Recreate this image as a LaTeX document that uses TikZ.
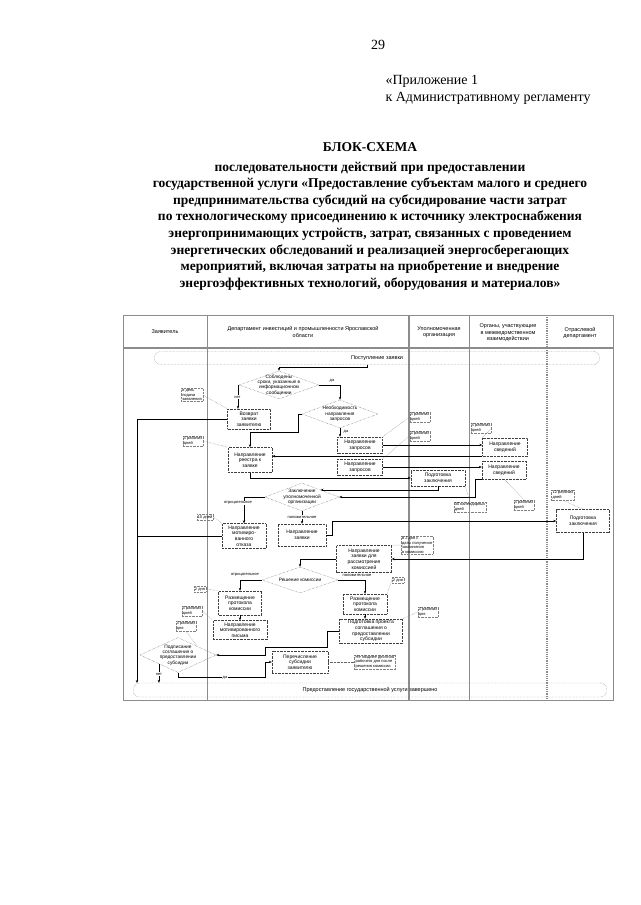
\documentclass[tikz,border=0pt]{standalone}
\usepackage{fontspec}
\setmainfont{Liberation Serif}
\newfontfamily\sfdiag{Liberation Sans}
\usetikzlibrary{arrows.meta,shapes.geometric,positioning,calc}

\begin{document}
\begin{tikzpicture}[x=1pt,y=-1pt,
    blok/.style={draw=black!75, densely dotted, align=center, inner sep=0.5pt, font=\sfdiag\fontsize{5}{5.6}\selectfont},
    romb/.style={diamond, draw=black!70, densely dotted, inner sep=0pt},
    rtxt/.style={align=center, inner sep=0pt, font=\sfdiag\fontsize{4.8}{5.4}\selectfont},
    term/.style={draw=black!60, densely dotted, rounded corners=6pt, inner sep=0pt, font=\sfdiag\fontsize{5.5}{6}\selectfont},
    hdr/.style={align=center, font=\sfdiag\fontsize{5.5}{6.5}\selectfont},
    note/.style={draw=black!50, densely dotted, align=left, inner sep=1pt, font=\sfdiag\fontsize{4}{4.5}\selectfont},
    elbl/.style={fill=white, inner sep=0.5pt, font=\sfdiag\fontsize{4}{4.5}\selectfont},
    lane/.style={draw=black!45, line width=1.2pt},
    arr/.style={-{Stealth[length=3pt,width=2.4pt]}, line width=0.6pt},
    hint/.style={densely dotted, black!60, line width=0.4pt}
]
\useasboundingbox (0,0) rectangle (640,905);
\fill[white] (0,0) rectangle (640,905);

% header of the page
\node[font=\fontsize{14}{17}\selectfont] (pg) at (378,45) {29};
\node[anchor=west, align=left, font=\fontsize{14}{17}\selectfont] (pril) at (382,90) {«Приложение 1\\к Административному регламенту};
\node[font=\bfseries\fontsize{13.5}{16.6}\selectfont] (ttl) at (370,147) {БЛОК-СХЕМА};
\node[align=center, font=\bfseries\fontsize{13.5}{16.6}\selectfont] (sub) at (370,226) {последовательности действий при предоставлении\\
государственной услуги «Предоставление субъектам малого и среднего\\
предпринимательства субсидий на субсидирование части затрат\\
по технологическому присоединению к источнику электроснабжения\\
энергопринимающих устройств, затрат, связанных с проведением\\
энергетических обследований и реализацией энергосберегающих\\
мероприятий, включая затраты на приобретение и внедрение\\
энергоэффективных технологий, оборудования и материалов»};

% lanes
\draw[black!45, line width=0.8pt] (123,315) rectangle (613,700);
\draw[lane] (123,348) -- (613,348);
\draw[black!45, line width=0.8pt] (207,315) -- (207,700);
\draw[lane] (409,315) -- (409,700);
\draw[black!45, line width=0.8pt] (469,315) -- (469,700);
\draw[lane, densely dotted] (547,315) -- (547,700);

\node[hdr] (hz) at (165,332) {Заявитель};
\node[hdr] (hd) at (303,332) {Департамент инвестиций и промышленности Ярославской\\области};
\node[hdr] (hu) at (439,332) {Уполномоченная\\организация};
\node[hdr] (ho) at (508,333) {Органы, участвующие\\в межведомственном\\взаимодействии};
\node[hdr] (hr) at (580,333) {Отраслевой\\департамент};

% blocks
\node[term, minimum width=445, minimum height=13] (start) at (377,358) {Поступление заявки};
\node[romb, minimum width=80, minimum height=28] (d1) at (279,385) {};
\node[rtxt] (d1t) at (d1) {Соблюдены\\сроки, указанные в\\информационном\\сообщении};
\node[blok, minimum width=43, minimum height=20] (vozvrat) at (249,419) {Возврат\\заявки\\заявителю};
\node[romb, minimum width=76, minimum height=28] (d2) at (340,414) {};
\node[rtxt] (d2t) at (d2) {Необходимость\\направления\\запросов};
\node[blok, minimum width=44, minimum height=25] (reestr) at (250,460) {Направление\\реестра к\\заявке};
\node[blok, minimum width=45, minimum height=16] (zap1) at (360,445) {Направление\\запросов};
\node[blok, minimum width=45, minimum height=16] (zap2) at (360,467) {Направление\\запросов};
\node[blok, minimum width=45, minimum height=18] (svd1) at (505,447) {Направление\\сведений};
\node[blok, minimum width=44, minimum height=18] (svd2) at (504,470) {Направление\\сведений};
\node[blok, minimum width=54, minimum height=16] (zakl1) at (438,478) {Подготовка\\заключения};
\node[romb, minimum width=74, minimum height=28] (d3) at (302,497) {};
\node[rtxt] (d3t) at (d3) {Заключение\\уполномоченной\\организации};
\node[blok, minimum width=44, minimum height=25] (otkaz) at (244,536) {Направление\\мотивиро-\\ванного\\отказа};
\node[blok, minimum width=48, minimum height=22] (napz) at (302,535) {Направление\\заявки};
\node[blok, minimum width=53, minimum height=23] (zakl2) at (583,521) {Подготовка\\заключения};
\node[blok, minimum width=55, minimum height=27] (komis) at (364,559) {Направление\\заявки для\\рассмотрения\\комиссией};
\node[romb, minimum width=76, minimum height=26] (d4) at (300,580) {};
\node[rtxt] (d4t) at (d4) {Решение комиссии};
\node[blok, minimum width=43, minimum height=24] (razm1) at (240,603) {Размещение\\протокола\\комиссии};
\node[blok, minimum width=44, minimum height=20] (razm2) at (365,604) {Размещение\\протокола\\комиссии};
\node[blok, minimum width=54, minimum height=19] (pismo) at (240,630) {Направление\\мотивированного\\письма};
\node[blok, minimum width=63, minimum height=24] (proekt) at (371,631) {Подготовка проекта\\соглашения о\\предоставлении\\субсидии};
\node[romb, minimum width=76, minimum height=35] (d5) at (178,655) {};
\node[rtxt] (d5t) at (d5) {Подписание\\соглашения о\\предоставлении\\субсидии};
\node[blok, minimum width=56, minimum height=22] (perech) at (300,662) {Перечисление\\субсидии\\заявителю};
\node[term, minimum width=473, minimum height=14] (end) at (370,690) {Предоставление государственной услуги завершено};
\coordinate (vl) at (137,683);

% terms
\node[note] (a1) at (192,395) {в день\\подачи\\заявления};
\node[note] (a2) at (193,441) {5 рабочих\\дней};
\node[note] (a3) at (420,417) {5 рабочих\\дней};
\node[note] (a4) at (420,436) {5 рабочих\\дней};
\node[note] (a5) at (481,428) {5 рабочих\\дней};
\node[note] (a6) at (470,507) {30 календарных\\дней};
\node[note] (a7) at (524,505) {5 рабочих\\дней};
\node[note] (a8) at (563,495) {12 рабочих\\дней};
\node[note] (a9) at (205,517) {10 дней};
\node[note] (a10) at (417,545) {в 2 дня с\\даты получения\\заключения\\в комиссию};
\node[note] (a11) at (200,589) {2 дня};
\node[note] (a12) at (192,611) {5 рабочих\\дней};
\node[note] (a13) at (186,626) {3 рабочих\\дня};
\node[note] (a14) at (398,580) {2 дня};
\node[note] (a15) at (428,612) {3 рабочих\\дня};
\node[note] (a16) at (375,662) {Не позднее десятого\\рабочего дня после\\решения комиссии};

% connectors
\draw[arr] ([xshift=-10pt]start.south) -- ++(0,3) -| (d1.north);
\draw[arr] (d1.west) -| ([xshift=-11pt]vozvrat.north);
\draw[arr] (d1.east) -| (d2.north);
\draw[arr] (d2.south) -- (d2.south |- zap1.north);
\draw[arr] (d2.west) -- ++(-4,0) -- ++(0,18) -| (reestr.north);
\draw[arr] (zap1.east) -- (zap1.east -| svd1.west);
\draw[arr] (zap2.east) -- (zap2.east -| svd2.west);
\draw[arr] (svd1.south west) -- (svd1.south west -| reestr.east);
\draw[arr] (svd2.south west) -- ++(-7,0) |- (d3.east);
\draw[arr] (reestr.south) |- (zakl1.west);
\draw[arr] (zakl1.south) |- (d3.north east);
\draw[arr] (d3.west) -| (otkaz.north);
\draw[arr] (d3.south) -- (napz.north);
\draw[arr] (napz.east) -- ++(6,0) |- (zakl2.west);
\draw[arr] (zakl2.south) |- (komis.east);
\draw[arr] (komis.west) -| (d4.north);
\draw[arr] (d4.west) -| (razm1.north);
\draw[arr] (d4.east) -| (razm2.north);
\draw[arr] (razm1.south) -- (pismo.north);
\draw[arr] (razm2.south) -- (razm2.south |- proekt.north);
\draw[arr] (proekt.west) -| ++(-12,16) -| ++(-62,8) -- (d5.east);
\draw[arr] (d5.south) |- ++(87,5) |- (perech.west);
\draw[arr] (d5.south west) -- (d5.south west |- end.north);
\draw[arr] (vozvrat.west) -| (vl);
\draw[line width=0.6pt] (otkaz.west) -- (otkaz.west -| vl);

\node[elbl] (l1) at (237.5,397) {нет};
\node[elbl] (l2) at (332,381) {да};
\node[elbl] (l3) at (346,432) {да};
\node[elbl] (l4) at (238,503) {отрицательное};
\node[elbl] (l5) at (302,517) {положительное};
\node[elbl] (l6) at (245,575) {отрицательное};
\node[elbl] (l7) at (357,575) {положительное};
\node[elbl] (l8) at (225,677.5) {да};
\node[elbl] (l9) at (159,674) {нет};

% terms to blocks
\draw[hint] (a1.east) -- (vozvrat.north west);
\draw[hint] (a2.east) -- (reestr.north west);
\draw[hint] (a3.west) -- (zap1.north east);
\draw[hint] (a4.west) -- (zap2.north east);
\draw[hint] (a5.east) -- (svd1.north west);
\draw[hint] (a6.north) -- (zakl1.south east);
\draw[hint] (a7.north) -- (svd2.south);
\draw[hint] (a8.south) -- (zakl2.north);
\draw[hint] (a9.east) -- (otkaz.north west);
\draw[hint] (a10.west) -- (komis.north east);
\draw[hint] (a11.east) -- (razm1.north west);
\draw[hint] (a12.east) -- (pismo.north west);
\draw[hint] (a13.south) -- (d5.north east);
\draw[hint] (a14.west) -- (razm2.north east);
\draw[hint] (a15.west) -- (proekt.north east);
\draw[hint] (perech.east) -- (a16.west);
\end{tikzpicture}
\end{document}
